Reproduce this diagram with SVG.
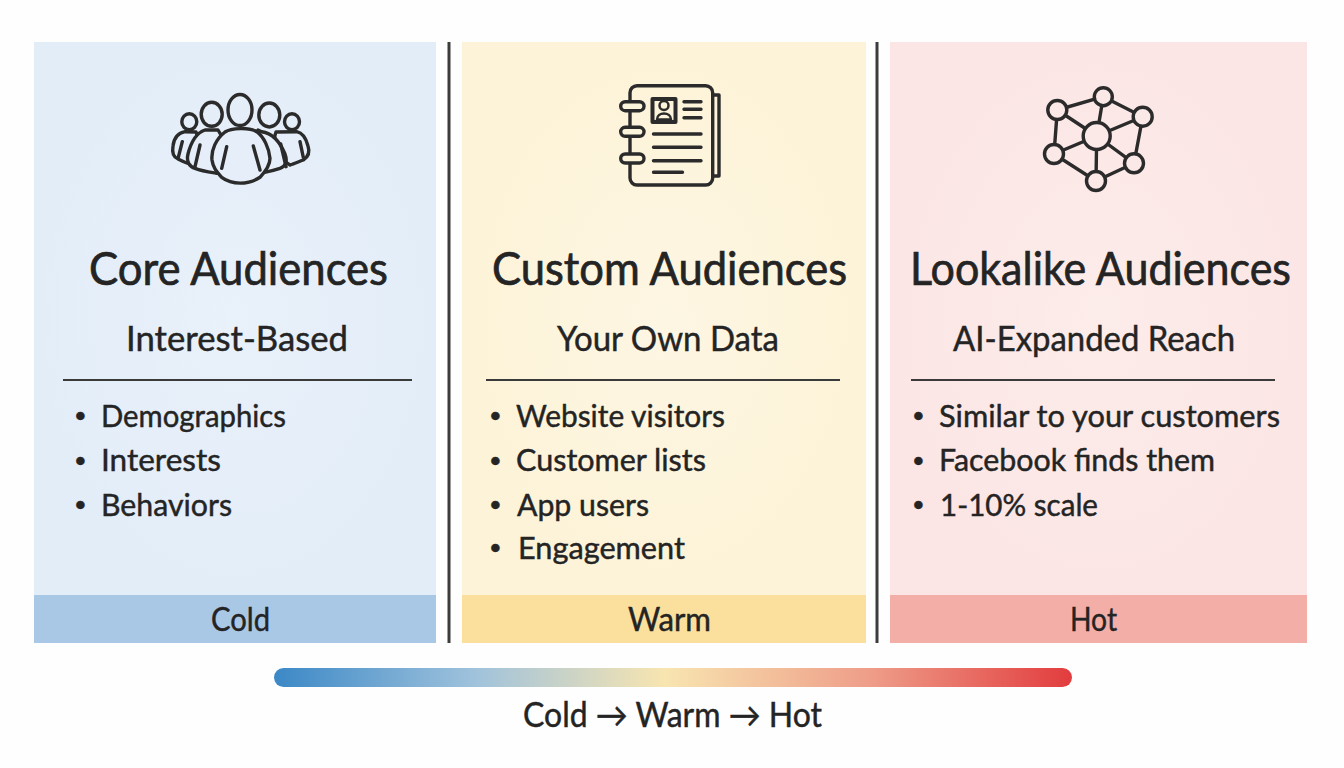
<svg xmlns="http://www.w3.org/2000/svg" width="1344" height="768" viewBox="0 0 1344 768">
<style>
text{font-family:"Lato","Noto Sans",sans-serif;fill:#242424;stroke:#242424;stroke-width:.45px;text-anchor:start}
.t{font-size:46px;stroke-width:.7px}
.s{font-size:34px}
.i{font-size:31px}
.d{font-size:22px}
.b{font-size:32px}
.ic{fill:none;stroke:#2b2b2b;stroke-width:3.4;stroke-linecap:round;stroke-linejoin:round}
.rule{stroke:#3a3a3a;stroke-width:2}
.div{stroke:#3c3c3c;stroke-width:3}
</style>
<defs>
<linearGradient id="g" x1="0" x2="1" y1="0" y2="0">
<stop offset="0" stop-color="#3b88c6"/><stop offset=".25" stop-color="#9fc2dc"/><stop offset=".49" stop-color="#f8e5b0"/><stop offset=".75" stop-color="#ee9c88"/><stop offset="1" stop-color="#e23c3e"/>
</linearGradient>
<radialGradient id="p1"><stop offset="0" stop-color="#e9f1fa"/><stop offset="1" stop-color="#e3edf8"/></radialGradient>
<radialGradient id="p2"><stop offset="0" stop-color="#fdf6e3"/><stop offset="1" stop-color="#fdf3d8"/></radialGradient>
<radialGradient id="p3"><stop offset="0" stop-color="#fcecea"/><stop offset="1" stop-color="#fbe6e5"/></radialGradient>
</defs>
<rect width="1344" height="768" fill="#fefefe"/>
<g id="core">
<rect x="34" y="42" width="402" height="553" fill="url(#p1)"/>
<rect x="34" y="595" width="402" height="48" fill="#a9c8e6"/>
<g class="ic" fill="#e6eff9">
<ellipse cx="189.300" cy="121.700" rx="7.500" ry="8"/><ellipse cx="292" cy="121.700" rx="7.500" ry="8"/>
<path fill="#e6eff9" d="M185 131.700C178 133 174 138 173 146C172 152 173 157 178 159C184 162 188 164 193 165C198 160 200 140 196 132Z"/>
<path fill="#e6eff9" d="M296.700 131.700C303 133 306 138 308 146C310 152 308 157 303.300 160C298 162 294 164 290 165C280 160 272 140 276 132Z"/>
<path d="M182.300 141.700L178.300 157.300M300 141.700L303.300 157.300"/>
<ellipse cx="211.700" cy="114.300" rx="10.500" ry="12"/><ellipse cx="269.300" cy="115" rx="10.500" ry="12"/>
<path fill="#e6eff9" d="M205 130C196 133 191 142 188 154C186 162 190 167 195 168.300C202 171 209 172 216.700 173.300C226 170 226 140 218 130Z"/>
<path fill="#e6eff9" d="M261.700 131.700C272 133 280 142 285 154C288 162 285 167 280 168.300C272 171 266 172 260 173.300C250 170 250 140 258 130Z"/>
<path d="M200 145L195 166.700M280.700 144L286 166.700"/>
<ellipse cx="240" cy="110" rx="12" ry="15.500"/>
<path fill="#e6eff9" d="M221.700 177.300C217 172 213 168 212 160C211 150 216 139 225 132C231 128 249 127 256.700 131.700C264 137 269 148 270 158.300C270 166 265 172 260 177.300C248 185 232 185 221.700 177.300Z"/>
<path d="M226.700 146.700L221.700 168.300M253.300 146L260 170"/>
</g>
<text class="t" x="89" y="285" textLength="299" lengthAdjust="spacingAndGlyphs">Core Audiences</text>
<text class="s" x="126" y="351" textLength="222" lengthAdjust="spacingAndGlyphs">Interest-Based</text>
<line class="rule" x1="63" y1="380" x2="412" y2="380"/>
<text class="d" x="74" y="423">•</text><text class="i" x="101" y="427" textLength="185" lengthAdjust="spacingAndGlyphs">Demographics</text>
<text class="d" x="74" y="468">•</text><text class="i" x="101" y="471" textLength="120" lengthAdjust="spacingAndGlyphs">Interests</text>
<text class="d" x="74" y="512">•</text><text class="i" x="101" y="516" textLength="131" lengthAdjust="spacingAndGlyphs">Behaviors</text>
<text class="b" x="211" y="631" textLength="59" lengthAdjust="spacingAndGlyphs">Cold</text>
</g>
<g id="custom">
<rect x="462" y="42" width="404" height="553" fill="url(#p2)"/>
<rect x="462" y="595" width="404" height="48" fill="#fae09c"/>
<g class="ic">
<rect x="630" y="85.700" width="82.700" height="99.300" rx="7"/>
<path d="M712.700 95H719V176H712.700"/>
<rect x="620.700" y="101.700" width="23.300" height="9" rx="4.500" fill="#fdf4dc"/>
<rect x="620.700" y="127.300" width="23.300" height="9" rx="4.500" fill="#fdf4dc"/>
<rect x="620.700" y="154" width="23.300" height="9" rx="4.500" fill="#fdf4dc"/>
<rect x="652.500" y="99" width="23" height="23" stroke-width="4"/>
<circle cx="664" cy="105.500" r="4.500" stroke-width="2.500"/>
<path d="M657 119.500C657 111.500 671 111.500 671 119.500Z" stroke-width="2.500"/>
<path d="M684 101.700H701M684 109.300H701M684 117.700H701M653.500 134H701M653.500 147.300H701M653.500 160.700H701M653.500 172.300H682.500"/>
</g>
<text class="t" x="492" y="285" textLength="355" lengthAdjust="spacingAndGlyphs">Custom Audiences</text>
<text class="s" x="557" y="351" textLength="222" lengthAdjust="spacingAndGlyphs">Your Own Data</text>
<line class="rule" x1="486" y1="380" x2="840" y2="380"/>
<text class="d" x="489" y="423">•</text><text class="i" x="516" y="427" textLength="209" lengthAdjust="spacingAndGlyphs">Website visitors</text>
<text class="d" x="489" y="468">•</text><text class="i" x="516" y="471" textLength="190" lengthAdjust="spacingAndGlyphs">Customer lists</text>
<text class="d" x="489" y="512">•</text><text class="i" x="517" y="516" textLength="132" lengthAdjust="spacingAndGlyphs">App users</text>
<text class="d" x="489" y="555">•</text><text class="i" x="518" y="559" textLength="167" lengthAdjust="spacingAndGlyphs">Engagement</text>
<text class="b" x="628" y="631" textLength="83" lengthAdjust="spacingAndGlyphs">Warm</text>
</g>
<g id="lookalike">
<rect x="890" y="42" width="417" height="553" fill="url(#p3)"/>
<rect x="890" y="595" width="417" height="48" fill="#f4aea8"/>
<g class="ic">
<path d="M1103.300 96.700L1142.700 116.700L1134 163.300L1096 181L1054 154L1057.300 110Z"/>
<path d="M1103.300 96.700L1096.700 136M1142.700 116.700L1096.700 136M1134 163.300L1096.700 136M1096 181L1096.700 136M1054 154L1096.700 136M1057.300 110L1096.700 136"/>
<g fill="#fbe9e7">
<circle cx="1103.300" cy="96.700" r="9"/><circle cx="1142.700" cy="116.700" r="9.500"/><circle cx="1057.300" cy="110" r="9.500"/><circle cx="1054" cy="154" r="9.500"/><circle cx="1096" cy="181" r="9.500"/><circle cx="1134" cy="163.300" r="9.500"/><circle cx="1096.700" cy="136" r="13.500"/>
</g>
</g>
<text class="t" x="910" y="285" textLength="381" lengthAdjust="spacingAndGlyphs">Lookalike Audiences</text>
<text class="s" x="953" y="351" textLength="282" lengthAdjust="spacingAndGlyphs">AI-Expanded Reach</text>
<line class="rule" x1="911" y1="380" x2="1275" y2="380"/>
<text class="d" x="912" y="423">•</text><text class="i" x="939" y="427" textLength="341" lengthAdjust="spacingAndGlyphs">Similar to your customers</text>
<text class="d" x="912" y="468">•</text><text class="i" x="939" y="471" textLength="276" lengthAdjust="spacingAndGlyphs">Facebook finds them</text>
<text class="d" x="912" y="512">•</text><text class="i" x="940" y="516" textLength="158" lengthAdjust="spacingAndGlyphs">1-10% scale</text>
<text class="b" x="1070" y="631" textLength="47" lengthAdjust="spacingAndGlyphs">Hot</text>
</g>
<g id="connectors">
<line class="div" x1="449" y1="42" x2="449" y2="643"/>
<line class="div" x1="877" y1="42" x2="877" y2="643"/>
</g>
<g id="scale">
<rect x="274" y="668" width="798" height="19" rx="9.500" fill="url(#g)"/>
<text class="b" x="523" y="727" textLength="299" lengthAdjust="spacingAndGlyphs" style="font-size:34px">Cold → Warm → Hot</text>
</g>
</svg>
